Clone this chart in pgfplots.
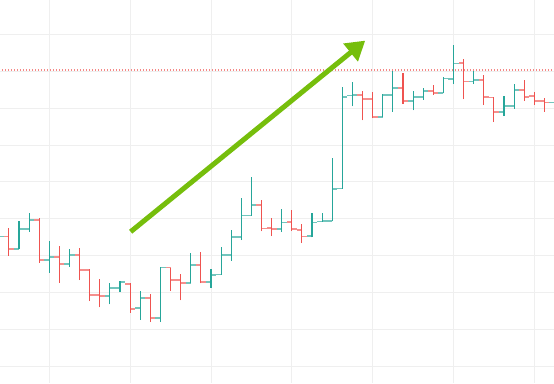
\documentclass[border=0pt]{standalone}
\usepackage{pgfplots}
\usepackage{pgfplotstable}
\pgfplotsset{compat=1.18}
\usetikzlibrary{arrows.meta}
\definecolor{upc}{HTML}{26A69A}
\definecolor{dnc}{HTML}{EF5350}
\definecolor{arrowc}{HTML}{76BE0C}
\definecolor{gridc}{HTML}{EFEFEF}

\pgfplotstableread{
x o h l c
-1 133.0 136.0 132.0 135.2
1 131.9 139.5 131.8 137.2
2 137.2 141.5 136.5 139.7
4 128.8 134.1 125.4 129.7
6 127.7 131.9 127.0 130.2
10 119.1 122.7 116.8 121.3
11 121.3 123.2 120.3 122.8
13 115.9 120.5 112.6 118.5
15 113.2 127.0 112.0 126.8
18 122.6 130.7 122.5 127.5
20 122.8 126.3 121.3 124.7
21 124.9 132.3 124.9 130.2
22 130.2 137.0 128.7 135.1
23 135.1 145.6 134.2 140.9
24 140.9 151.3 140.9 143.8
27 137.2 142.6 136.4 139.0
30 135.3 141.5 135.0 139.0
31 139.3 141.6 139.2 139.5
32 139.5 156.4 139.3 148.1
33 148.2 175.6 148.2 173.1
34 173.4 177.2 170.5 173.6
37 167.5 173.7 167.5 173.6
38 173.6 180.3 169.0 175.5
40 172.0 174.6 169.4 173.1
41 173.1 175.4 172.2 174.7
43 174.2 178.5 174.0 178.0
44 177.9 187.1 176.5 182.1
46 177.2 180.5 176.5 177.6
49 169.0 173.4 167.8 170.6
50 170.6 176.5 169.8 174.9
54 171.5 173.0 170.5 172.2
}\upbars

\pgfplotstableread{
x o h l c
0 135.2 137.4 130.0 131.8
3 139.7 140.3 128.1 128.8
5 129.7 132.7 122.7 127.7
7 130.2 132.0 123.4 126.2
8 126.2 126.3 117.7 119.3
9 119.3 123.6 116.0 119.1
12 122.4 122.6 114.6 115.6
14 118.5 119.5 112.0 113.2
16 126.8 126.8 120.5 123.5
17 123.5 125.1 117.9 122.6
19 127.5 131.0 122.5 122.8
25 143.8 145.1 136.6 137.4
26 137.6 140.3 135.3 137.3
28 139.1 142.3 136.7 137.2
29 137.0 138.7 133.4 135.2
35 173.6 174.7 166.7 172.5
36 172.5 174.3 167.2 167.5
39 175.5 179.6 171.1 172.0
42 174.7 176.3 173.6 174.2
45 182.3 183.4 172.4 177.2
47 177.6 178.9 170.8 173.1
48 172.9 172.9 166.2 169.0
51 174.9 177.5 171.9 173.0
52 173.3 174.4 170.8 172.0
53 172.0 172.7 169.0 171.5
}\downbars

\pgfplotsset{
  vbar/.style={draw=none, mark=none, error bars/.cd, y dir=plus, y explicit, error mark=none,
    error bar style={draw=#1, line width=1.1pt, line cap=butt, solid}},
  obar/.style={draw=none, mark=none, error bars/.cd, x dir=minus, x fixed=0.5, error mark=none,
    error bar style={draw=#1!65!white, line width=1.8pt, line cap=butt, solid}},
  cbar/.style={draw=none, mark=none, error bars/.cd, x dir=plus, x fixed=0.5, error mark=none,
    error bar style={draw=#1!65!white, line width=1.8pt, line cap=butt, solid}},
}

\begin{document}
\begin{tikzpicture}
\begin{axis}[
  width=554pt, height=383pt, scale only axis,
  xmin=-0.881, xmax=53.95, ymin=95.51, ymax=199.30,
  axis line style={draw=none},
  xtick={4,12,...,52}, ytick={100,110,...,190},
  xticklabels={}, yticklabels={},
  major tick length=0pt, tick style={draw=none},
  grid=major, major grid style={draw=gridc, line width=0.9pt},
  clip=true,
]
\addplot[obar=upc] table[x=x, y=o] \upbars;
\addplot[cbar=upc] table[x=x, y=c] \upbars;
\addplot[obar=dnc] table[x=x, y=o] \downbars;
\addplot[cbar=dnc] table[x=x, y=c] \downbars;
\addplot[vbar=upc] table[x=x, y=l, y error expr=\thisrow{h}-\thisrow{l}] \upbars;
\addplot[vbar=dnc] table[x=x, y=l, y error expr=\thisrow{h}-\thisrow{l}] \downbars;
\addplot[dnc!70!white, line width=1.4pt, dash pattern=on 1pt off 2pt] coordinates {(-1,180.33) (55,180.33)};
\draw[arrowc, line width=5pt, -{Triangle[length=19pt, width=22pt]}] (axis cs:12.05,136.5) -- (axis cs:35.27,188.3);
\end{axis}
\pgfresetboundingbox
\path (current axis.south west) rectangle (current axis.north east);
\end{tikzpicture}
\end{document}
